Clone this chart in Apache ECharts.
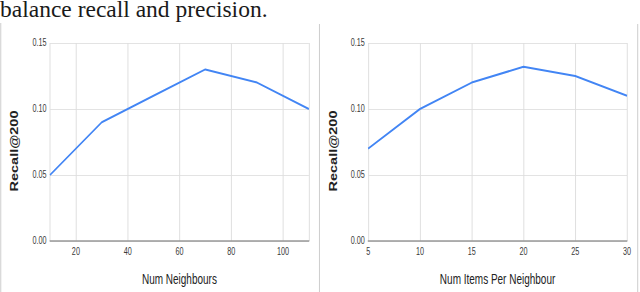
<!DOCTYPE html>
<html>
<head>
<meta charset="utf-8">
<script src="https://cdn.jsdelivr.net/npm/echarts@6/dist/echarts.min.js"></script>
<style>
html,body{margin:0;padding:0;background:#fff;overflow:hidden;width:640px;height:292px;}
#c{width:928px;height:292px;transform:scaleX(0.6897);transform-origin:0 0;}
</style>
</head>
<body>
<div id="c"></div>
<script>
// data
var neighbours = [10, 30, 50, 70, 90, 110];
var recallByNeighbours = [0.05, 0.09, 0.11, 0.13, 0.12, 0.10];
var itemsPerNeighbour = [5, 10, 15, 20, 25, 30];
var recallByItems = [0.07, 0.10, 0.12, 0.132, 0.125, 0.11];
var recallTicks = [0, 0.05, 0.10, 0.15];
var headText = 'balance recall and precision.';
var yName = 'Recall@200';
var xName1 = 'Num Neighbours';
var xName2 = 'Num Items Per Neighbour';

var S = 0.6897;
var chart = echarts.init(document.getElementById('c'), null, {renderer: 'svg'});

function pairs(xs, ys) { return xs.map(function (x, i) { return [x, ys[i]]; }); }

var labelStyle = {color: '#3a3a3a', fontFamily: 'Liberation Sans, Arial, sans-serif', fontSize: 10.5};
function yAxis(idx) {
  return {
    type: 'value', gridIndex: idx, min: recallTicks[0], max: recallTicks[recallTicks.length - 1], interval: 0.05,
    name: yName, nameLocation: 'middle', nameGap: 43,
    nameTextStyle: {color: '#222', fontWeight: 'bold', fontSize: 14.5, fontFamily: 'Liberation Sans, Arial, sans-serif', padding: [0, 18, 0, 0]},
    axisLine: {show: false}, axisTick: {show: false},
    axisLabel: Object.assign({margin: 5, formatter: function (v) { return v.toFixed(2); }}, labelStyle),
    splitLine: {lineStyle: {color: '#dedede', width: 1}}
  };
}
function xAxis(idx, name, min, max, extra) {
  return Object.assign({
    type: 'value', gridIndex: idx, min: min, max: max,
    name: name, nameLocation: 'middle', nameGap: 31,
    nameTextStyle: {color: '#222', fontSize: 14.5, fontFamily: 'Liberation Sans, Arial, sans-serif'},
    axisLine: {show: true, onZero: true, lineStyle: {color: '#999', width: 1.5}},
    axisTick: {show: false},
    axisLabel: Object.assign({margin: 5}, labelStyle),
    splitLine: {show: true, lineStyle: {color: '#dedede', width: 1.4}}
  }, extra || {});
}

var lineStyle = {color: '#4285f4', width: 2};

chart.setOption({
  animation: false,
  grid: [
    {left: 72.5, right: 480.2, top: 43, bottom: 51},
    {left: 533.8, right: 18.9, top: 43, bottom: 51}
  ],
  xAxis: [
    xAxis(0, xName1, neighbours[0], neighbours[neighbours.length - 1], {splitNumber: 5, axisLabel: Object.assign({margin: 5, showMinLabel: false, showMaxLabel: false}, labelStyle)}),
    xAxis(1, xName2, itemsPerNeighbour[0], itemsPerNeighbour[itemsPerNeighbour.length - 1], {interval: 5})
  ],
  yAxis: [yAxis(0), yAxis(1)],
  series: [
    {type: 'line', xAxisIndex: 0, yAxisIndex: 0, data: pairs(neighbours, recallByNeighbours), showSymbol: false, lineStyle: lineStyle},
    {type: 'line', xAxisIndex: 1, yAxisIndex: 1, data: pairs(itemsPerNeighbour, recallByItems), showSymbol: false, lineStyle: lineStyle}
  ],
  graphic: [
    {type: 'text', x: 0, y: 9.2, scaleX: 1 / S, style: {text: headText, font: '23.5px "Liberation Serif", "Times New Roman", serif', fill: '#1a1a1a', verticalAlign: 'middle', align: 'left'}},
    {type: 'line', shape: {x1: 1.1, y1: 23, x2: 1.1, y2: 292}, style: {stroke: '#cfcfcf', lineWidth: 1.5}},
    {type: 'line', shape: {x1: 463.2, y1: 24, x2: 463.2, y2: 292}, style: {stroke: '#cfcfcf', lineWidth: 1.5}},
    {type: 'line', shape: {x1: 924.6, y1: 24, x2: 924.6, y2: 292}, style: {stroke: '#cfcfcf', lineWidth: 1.5}}
  ]
});
</script>
</body>
</html>
